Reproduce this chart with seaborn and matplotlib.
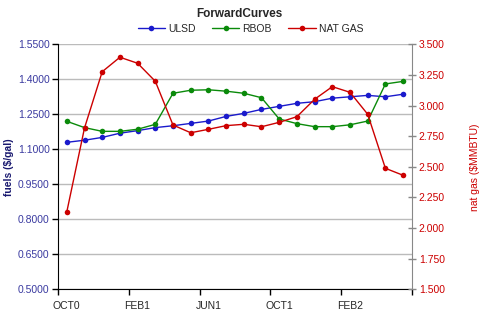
import matplotlib
matplotlib.use("Agg")
import matplotlib.pyplot as plt
import seaborn as sns
import pandas as pd
import numpy as np

months = ["OCT0", "NOV0", "DEC0", "JAN1", "FEB1", "MAR1", "APR1", "MAY1",
          "JUN1", "JUL1", "AUG1", "SEP1", "OCT1", "NOV1", "DEC1", "JAN2",
          "FEB2", "MAR2", "APR2", "MAY2"]
ulsd = [1.130, 1.139, 1.151, 1.169, 1.180, 1.193, 1.201, 1.211, 1.221, 1.241,
        1.254, 1.271, 1.284, 1.297, 1.304, 1.319, 1.325, 1.331, 1.325, 1.336]
rbob = [1.220, 1.193, 1.177, 1.177, 1.186, 1.207, 1.340, 1.353, 1.355, 1.349,
        1.340, 1.321, 1.230, 1.210, 1.197, 1.197, 1.205, 1.221, 1.380, 1.391]
natgas = [2.133, 2.817, 3.276, 3.394, 3.345, 3.198, 2.841, 2.778, 2.806, 2.836,
          2.847, 2.827, 2.863, 2.909, 3.051, 3.154, 3.108, 2.929, 2.488, 2.431]
tick_labels = ["OCT0", "FEB1", "JUN1", "OCT1", "FEB2"]
left_ticks = [0.50, 0.65, 0.80, 0.95, 1.10, 1.25, 1.40, 1.55]
right_ticks = [1.50, 1.75, 2.00, 2.25, 2.50, 2.75, 3.00, 3.25, 3.50]

sns.set_style("white")
plt.rcParams['font.family'] = ['Liberation Sans', 'DejaVu Sans']

idx = np.arange(len(months))
df = pd.DataFrame({"i": idx, "ULSD": ulsd, "RBOB": rbob, "NAT GAS": natgas})

fig = plt.figure(figsize=(4.79, 3.23), dpi=100)
ax = fig.add_axes([0.121, 0.104, 0.739, 0.759])
ax2 = ax.twinx()

c_ulsd, c_rbob, c_gas = "#1a1acc", "#0a8a0a", "#cc0000"
kw = dict(marker="o", markersize=4, markeredgewidth=0, linewidth=1.0)
sns.lineplot(data=df, x="i", y="ULSD", ax=ax, color=c_ulsd, label="ULSD", legend=False, **kw)
sns.lineplot(data=df, x="i", y="RBOB", ax=ax, color=c_rbob, label="RBOB", legend=False, **kw)
sns.lineplot(data=df, x="i", y="NAT GAS", ax=ax2, color=c_gas, label="NAT GAS", legend=False, **kw)

ax.set_xlim(-0.5, len(months) - 0.5)
ax.set_ylim(0.5, 1.55)
ax2.set_ylim(1.5, 3.5)
ax.set_yticks(left_ticks)
ax.set_yticklabels([f"{v:.4f}" for v in left_ticks], color="#3a3aa0", fontsize=7.5)
ax2.set_yticks(right_ticks)
ax2.set_yticklabels([f"{v:.3f}" for v in right_ticks], color="#cc0000", fontsize=7.5)

# x ticks: boundaries as major ticks, labels centered on categories
bounds = np.arange(-0.5, len(months), 4)
ax.set_xticks(bounds)
ax.set_xticklabels([])
ax.set_xticks(idx[::4], minor=True)
ax.set_xticklabels(tick_labels, minor=True, fontsize=7.5)
ax.tick_params(axis="x", which="minor", length=0, pad=8)
ax.tick_params(axis="x", which="major", direction="out", length=4, width=1, color="black", bottom=True)
ax.tick_params(axis="y", direction="out", length=4, width=1, color="black", left=True, pad=2)
ax2.tick_params(axis="y", direction="inout", length=6, width=1, color="#888888", right=True, pad=2)

ax.grid(axis="y", color="#bbbbbb", linewidth=1)
ax.grid(axis="x", visible=False)
ax2.grid(False)
for a in (ax, ax2):
    a.spines["top"].set_visible(False)
ax.spines["left"].set_color("black")
ax.spines["bottom"].set_color("black")
ax.spines["right"].set_visible(False)
ax2.spines["left"].set_visible(False)
ax2.spines["bottom"].set_visible(False)
ax2.spines["right"].set_color("#888888")

ax.set_xlabel("")
ax.set_ylabel("fuels ($/gal)", color="#1a1a70", fontsize=7.5, fontweight="bold", labelpad=3)
ax2.set_ylabel("nat gas ($MMBTU)", color="#cc0000", fontsize=7.5, labelpad=18)

fig.text(0.5, 0.958, "ForwardCurves", ha="center", va="center", fontsize=8.5, fontweight="bold")
handles = [ax.lines[0], ax.lines[1], ax2.lines[0]]
fig.legend(handles, ["ULSD", "RBOB", "NAT GAS"], loc="center", bbox_to_anchor=(0.523, 0.91),
           ncol=3, frameon=False, fontsize=7.5, handlelength=2.6, columnspacing=1.6,
           handletextpad=0.3, borderpad=0)

fig.savefig("out.png", dpi=100)
